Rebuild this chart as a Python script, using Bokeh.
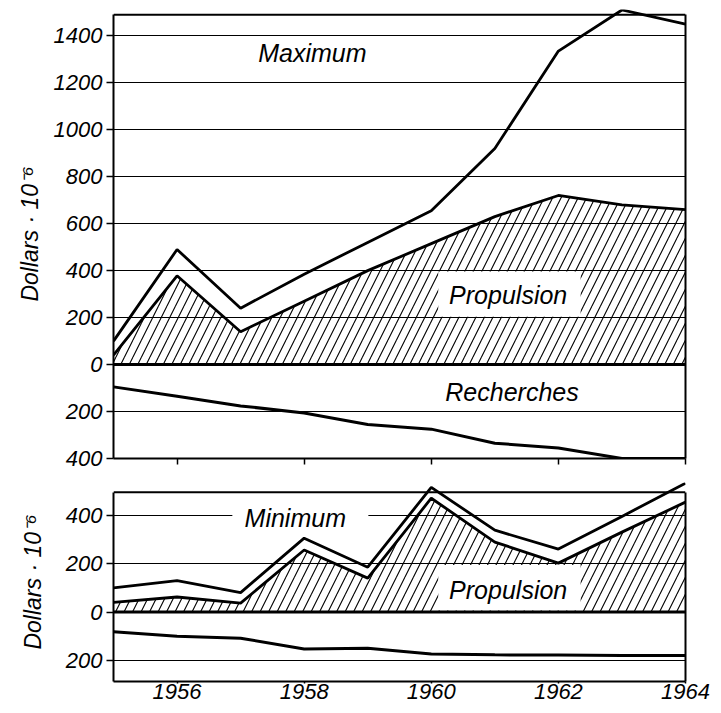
from bokeh.plotting import figure
from bokeh.models import FixedTicker, Span, LinearAxis, Range1d, ColumnDataSource
from bokeh.layouts import column
from bokeh.embed import file_html
from bokeh.resources import INLINE
from bokeh.core.properties import value

# ---------------- data ----------------
years = [1955, 1956, 1957, 1958, 1959, 1960, 1961, 1962, 1963, 1964]

max_total = [100, 490, 240, 385, 520, 655, 920, 1335, 1510, 1450]
max_propulsion = [40, 378, 140, 270, 400, 515, 630, 720, 680, 660]
max_recherches = [-95, -135, -176, -206, -255, -275, -335, -355, -400, -400]

min_total = [100, 130, 80, 305, 185, 515, 338, 260, 395, 532]
min_propulsion = [40, 62, 37, 256, 140, 470, 289, 202, 330, 454]
min_recherches = [-82, -100, -108, -153, -150, -173, -177, -178, -180, -180]

top_ticks = [-400, -200, 0, 200, 400, 600, 800, 1000, 1200, 1400]
top_tick_labels = ["400", "200", "0", "200", "400", "600", "800", "1000", "1200", "1400"]
bottom_ticks = [-200, 0, 200, 400]
bottom_tick_labels = ["200", "0", "200", "400"]
year_ticks = [1956, 1958, 1960, 1962, 1964]
year_labels = ["1956", "1958", "1960", "1962", "1964"]

y_label = "Dollars · 10⁻⁶"

FONT = "Liberation Sans"
zeros = [0] * len(years)


def base_figure(height, yr, frame_top, frame_bottom, ticks, tick_labels,
                border_top, border_bottom, show_years, label_standoff):
    p = figure(width=716, height=height, output_backend="svg", toolbar_location=None,
               x_range=Range1d(1955, 1964), y_range=yr,
               min_border_left=113, min_border_right=31,
               min_border_top=border_top, min_border_bottom=border_bottom,
               background_fill_color="white", border_fill_color="white",
               outline_line_color=None)
    p.xgrid.visible = False
    p.ygrid.grid_line_color = "black"
    p.ygrid.grid_line_width = 1
    p.ygrid.grid_line_alpha = 1

    ya = p.yaxis[0]
    ya.ticker = FixedTicker(ticks=ticks)
    ya.major_label_overrides = {t: l for t, l in zip(ticks, tick_labels)}
    ya.bounds = (frame_bottom, frame_top)
    ya.axis_line_width = 2
    ya.axis_line_color = "black"
    ya.major_tick_out = 7
    ya.major_tick_in = 0
    ya.minor_tick_line_color = None
    ya.major_tick_line_width = 1.5
    ya.major_tick_line_color = "black"
    ya.major_label_standoff = 4
    ya.major_label_text_font = FONT
    ya.major_label_text_font_style = "italic"
    ya.major_label_text_font_size = "22px"
    ya.major_label_text_color = "black"
    ya.axis_label = y_label
    ya.axis_label_text_font = FONT
    ya.axis_label_text_font_style = "italic"
    ya.axis_label_text_font_size = "23px"
    ya.axis_label_text_color = "black"
    ya.axis_label_standoff = label_standoff

    xa = p.xaxis[0]
    xa.ticker = FixedTicker(ticks=year_ticks)
    xa.major_label_overrides = {t: l for t, l in zip(year_ticks, year_labels)}
    xa.axis_line_width = 2
    xa.axis_line_color = "black"
    xa.minor_tick_line_color = None
    xa.major_tick_in = 0
    xa.major_tick_line_width = 1.5
    xa.major_tick_line_color = "black"
    xa.major_label_text_font = FONT
    xa.major_label_text_font_style = "italic"
    xa.major_label_text_font_size = "22px"
    xa.major_label_text_color = "black"
    if show_years:
        xa.major_tick_out = 2
        xa.major_label_standoff = 0
    else:
        xa.major_tick_out = 6
        xa.major_label_text_font_size = "1px"
        xa.major_label_text_color = None
        xa.major_label_standoff = 0

    # right border as an axis without ticks
    ra = LinearAxis(bounds=(frame_bottom, frame_top), axis_line_width=2, axis_line_color="black",
                    major_tick_line_color=None, minor_tick_line_color=None,
                    major_label_text_font_size="1px", major_label_text_color=None,
                    ticker=FixedTicker(ticks=[]))
    p.add_layout(ra, "right")
    # top border
    p.add_layout(Span(location=frame_top, dimension="width", line_color="black", line_width=2))
    # zero line
    p.add_layout(Span(location=0, dimension="width", line_color="black", line_width=3))
    return p


HATCH = dict(fill_alpha=0, hatch_pattern="/", hatch_color="black",
             hatch_scale=17, hatch_weight=1.1)

# ---------------- top panel: Maximum ----------------
top = base_figure(475, Range1d(-400, 1512), 1490, -400, top_ticks, top_tick_labels,
                  9, 17, False, 8)
top.varea(x=years, y1=zeros, y2=max_propulsion, **HATCH)
top.quad(left=[1960.11], right=[1962.35], bottom=[204], top=[396],
         fill_color="white", line_color=None)
top.line(years, max_propulsion, line_color="black", line_width=2.8)
top.line(years, max_total, line_color="black", line_width=2.8)
top.line(years, max_recherches, line_color="black", line_width=3)

top_txt = ColumnDataSource(dict(x=[1958.13, 1961.21, 1961.27],
                                y=[1328, 298, -115],
                                t=["Maximum", "Propulsion", "Recherches"]))
top.text(x="x", y="y", text="t", source=top_txt, text_font=value(FONT),
         text_font_style="italic", text_font_size="25px", text_color="black",
         text_align="center", text_baseline="middle")

# ---------------- bottom panel: Minimum ----------------
bot = base_figure(236, Range1d(-287, 535), 495, -287, bottom_ticks, bottom_tick_labels,
                  7, 30, True, 17)
bot.varea(x=years, y1=zeros, y2=min_propulsion, **HATCH)
bot.quad(left=[1960.11, 1956.87], right=[1962.35, 1959.01], bottom=[6, 345], top=[194, 432],
         fill_color="white", line_color=None)
bot.line(years, min_propulsion, line_color="black", line_width=2.8)
bot.line(years, min_total, line_color="black", line_width=2.8)
bot.line(years, min_recherches, line_color="black", line_width=3)

bot_txt = ColumnDataSource(dict(x=[1957.86, 1961.21], y=[388, 91],
                                t=["Minimum", "Propulsion"]))
bot.text(x="x", y="y", text="t", source=bot_txt, text_font=value(FONT),
         text_font_style="italic", text_font_size="25px", text_color="black",
         text_align="center", text_baseline="middle")

layout = column(top, bot, spacing=0)
open("out.html", "w").write(file_html(layout, INLINE))
